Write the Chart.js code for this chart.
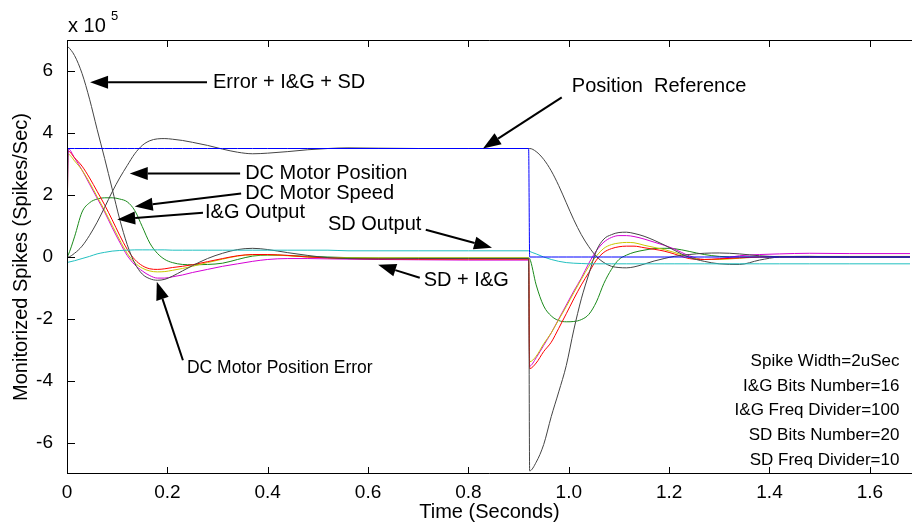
<!DOCTYPE html>
<html>
<head>
<meta charset="utf-8">
<script src="https://cdn.jsdelivr.net/npm/chart.js@4"></script>
<style>
  html, body { margin: 0; padding: 0; background: #fff; }
  canvas { display: block; }
</style>
</head>
<body>
<canvas id="myChart" width="912" height="526"></canvas>
<script>
// time axis (seconds), shared by every trace
var timeValues = [0, 0.002, 0.015, 0.03, 0.045, 0.06, 0.075, 0.09, 0.105, 0.12,
  0.135, 0.15, 0.165, 0.18, 0.195, 0.21, 0.23, 0.25, 0.28, 0.31,
  0.34, 0.37, 0.40, 0.44, 0.48, 0.52, 0.56, 0.62, 0.70, 0.80,
  0.92, 0.922, 0.935, 0.95, 0.965, 0.98, 0.995, 1.01, 1.025, 1.04,
  1.055, 1.07, 1.085, 1.10, 1.115, 1.13, 1.15, 1.17, 1.19, 1.21,
  1.24, 1.27, 1.30, 1.34, 1.38, 1.42, 1.48, 1.56, 1.68];

// spike rates, in units of 1e5 spikes/sec
var positionRef = [0, 3.5, 3.5, 3.5, 3.5, 3.5, 3.5, 3.5, 3.5, 3.5,
  3.5, 3.5, 3.5, 3.5, 3.5, 3.5, 3.5, 3.5, 3.5, 3.5,
  3.5, 3.5, 3.5, 3.5, 3.5, 3.5, 3.5, 3.5, 3.5, 3.5,
  3.5, 0, 0, 0, 0, 0, 0, 0, 0, 0,
  0, 0, 0, 0, 0, 0, 0, 0, 0, 0,
  0, 0, 0, 0, 0, 0, 0, 0, 0];

var motorPosition = [0, 0, 0.12, 0.35, 0.7, 1.12, 1.6, 2.1, 2.55, 2.95,
  3.33, 3.6, 3.75, 3.81, 3.82, 3.8, 3.76, 3.7, 3.6, 3.48,
  3.38, 3.33, 3.35, 3.4, 3.46, 3.5, 3.52, 3.51, 3.5, 3.5,
  3.5, 3.5, 3.4, 3.15, 2.78, 2.3, 1.75, 1.2, 0.72, 0.33,
  0.02, -0.18, -0.3, -0.34, -0.35, -0.32, -0.23, -0.13, -0.05, 0.02,
  0.08, 0.12, 0.13, 0.1, 0.04, 0.01, 0, 0, 0];

var errorIgSd = [6.8, 6.78, 6.5, 5.92, 5.09, 4.12, 3.18, 2.2, 1.22, 0.4,
  -0.2, -0.55, -0.7, -0.75, -0.72, -0.62, -0.45, -0.28, -0.05, 0.12,
  0.24, 0.28, 0.24, 0.14, 0.05, -0.02, -0.05, -0.06, -0.05, -0.05,
  -0.05, -6.9, -6.62, -6.05, -5.15, -4.35, -3.5, -2.35, -1.35, -0.55,
  0.2, 0.58, 0.72, 0.79, 0.8, 0.76, 0.67, 0.54, 0.39, 0.22,
  -0.01, -0.14, -0.22, -0.24, -0.1, 0, 0.02, 0, 0];

var motorSpeed = [0, 0.05, 0.65, 1.45, 1.75, 1.87, 1.91, 1.91, 1.87, 1.78,
  1.5, 0.98, 0.45, 0.12, -0.08, -0.18, -0.24, -0.25, -0.24, -0.2,
  -0.08, 0.03, 0.06, 0.05, 0.02, 0, -0.02, -0.03, -0.03, -0.03,
  -0.03, -0.05, -0.9, -1.58, -1.9, -2.05, -2.09, -2.08, -2.02, -1.85,
  -1.45, -0.85, -0.4, -0.08, 0.06, 0.15, 0.22, 0.27, 0.28, 0.27,
  0.18, 0.08, 0.02, 0, 0, 0, 0, 0, 0];

var igOutput = [0, 3.32, 3.1, 2.8, 2.4, 1.95, 1.5, 1.02, 0.55, 0.12,
  -0.18, -0.36, -0.45, -0.48, -0.47, -0.43, -0.37, -0.3, -0.18, -0.07,
  0.03, 0.07, 0.07, 0.04, 0, -0.02, -0.03, -0.03, -0.03, -0.03,
  -0.03, -3.38, -3.2, -2.8, -2.45, -2.02, -1.6, -1.15, -0.72, -0.3,
  0.03, 0.28, 0.4, 0.45, 0.47, 0.46, 0.38, 0.31, 0.24, 0.15,
  0, -0.08, -0.08, -0.04, 0, 0.02, 0.02, 0.02, 0.02];

var positionError = [0, 3.5, 3.2, 2.8, 2.35, 1.9, 1.45, 0.95, 0.48, 0.05,
  -0.25, -0.45, -0.6, -0.68, -0.68, -0.64, -0.58, -0.5, -0.4, -0.3,
  -0.22, -0.14, -0.08, -0.05, -0.05, -0.06, -0.07, -0.08, -0.09, -0.1,
  -0.1, -3.52, -3.25, -2.85, -2.45, -2.0, -1.55, -1.1, -0.68, -0.2,
  0.2, 0.48, 0.63, 0.69, 0.69, 0.66, 0.58, 0.48, 0.38, 0.26,
  0.04, -0.08, -0.06, 0.04, 0.08, 0.1, 0.12, 0.11, 0.11];

var sdIg = [0, 3.42, 3.2, 2.93, 2.55, 2.12, 1.68, 1.2, 0.7, 0.25,
  -0.08, -0.28, -0.38, -0.4, -0.38, -0.34, -0.3, -0.25, -0.15, -0.05,
  0.04, 0.08, 0.08, 0.05, 0, -0.03, -0.05, -0.06, -0.07, -0.07,
  -0.07, -3.6, -3.42, -3.05, -2.75, -2.3, -1.83, -1.35, -0.9, -0.5,
  -0.1, 0.15, 0.27, 0.33, 0.35, 0.35, 0.3, 0.25, 0.19, 0.1,
  -0.05, -0.08, -0.06, -0.03, 0, 0, 0, 0, 0];

var sdOutput = [-0.18, -0.17, -0.12, -0.05, 0.02, 0.1, 0.15, 0.19, 0.21, 0.22,
  0.23, 0.23, 0.23, 0.23, 0.23, 0.22, 0.22, 0.22, 0.22, 0.22,
  0.22, 0.22, 0.22, 0.22, 0.22, 0.22, 0.2, 0.2, 0.2, 0.2,
  0.2, 0.18, 0.1, 0, -0.08, -0.14, -0.18, -0.2, -0.21, -0.22,
  -0.22, -0.22, -0.22, -0.22, -0.22, -0.22, -0.22, -0.22, -0.22, -0.22,
  -0.22, -0.22, -0.22, -0.22, -0.22, -0.22, -0.22, -0.22, -0.22];

var xTicks = [0, 0.2, 0.4, 0.6, 0.8, 1, 1.2, 1.4, 1.6];
var yTicks = [-6, -4, -2, 0, 2, 4, 6];

var settings = ['Spike Width=2uSec', 'I&G Bits Number=16', 'I&G Freq Divider=100',
  'SD Bits Number=20', 'SD Freq Divider=10'];

// callouts: label start, arrow tail and arrow tip, all in data units
var callouts = [
  {text: 'Error + I&G + SD', at: [0.291, 5.64], tail: [0.279, 5.64], tip: [0.046, 5.64]},
  {text: 'Position  Reference', at: [1.006, 5.49], tail: [0.986, 5.15], tip: [0.829, 3.5]},
  {text: 'DC Motor Position', at: [0.355, 2.69], tail: [0.345, 2.69], tip: [0.125, 2.69]},
  {text: 'DC Motor Speed', at: [0.355, 2.05], tail: [0.347, 2.05], tip: [0.135, 1.63]},
  {text: 'I&G Output', at: [0.275, 1.43], tail: [0.271, 1.43], tip: [0.1, 1.21]},
  {text: 'SD Output', at: [0.52, 1.05], tail: [0.715, 0.88], tip: [0.847, 0.3]},
  {text: 'SD + I&G', at: [0.711, -0.77], tail: [0.703, -0.67], tip: [0.62, -0.25]},
  {text: 'DC Motor Position Error', at: [0.239, -3.58], tail: [0.231, -3.33], tip: [0.179, -0.8], size: 17.5}
];

var FONT = '"Liberation Sans", Arial, Helvetica, sans-serif';

function pts(vals) {
  return timeValues.map(function (t, i) { return {x: t, y: vals[i]}; });
}

function trace(label, vals, color) {
  return {
    label: label,
    data: pts(vals),
    borderColor: color,
    borderWidth: 1,
    pointRadius: 0,
    fill: false,
    cubicInterpolationMode: 'monotone'
  };
}

// axes box with inward ticks, the exponent, callouts and settings text
var decorations = {
  id: 'decorations',
  afterDraw: function (chart) {
    var ctx = chart.ctx, a = chart.chartArea;
    var xs = chart.scales.x, ys = chart.scales.y;
    ctx.save();
    ctx.strokeStyle = '#000';
    ctx.lineWidth = 1;
    ctx.beginPath();
    ctx.moveTo(a.right, a.top + 0.5);
    ctx.lineTo(a.left + 0.5, a.top + 0.5);
    ctx.lineTo(a.left + 0.5, a.bottom - 0.5);
    ctx.lineTo(a.right, a.bottom - 0.5);
    ctx.stroke();

    ctx.beginPath();
    xTicks.forEach(function (v) {
      var px = Math.round(xs.getPixelForValue(v)) + 0.5;
      ctx.moveTo(px, a.bottom); ctx.lineTo(px, a.bottom - 7);
      ctx.moveTo(px, a.top); ctx.lineTo(px, a.top + 7);
    });
    yTicks.forEach(function (v) {
      var py = Math.round(ys.getPixelForValue(v)) + 0.5;
      ctx.moveTo(a.left, py); ctx.lineTo(a.left + 8, py);
    });
    ctx.stroke();

    ctx.fillStyle = '#000';
    ctx.textBaseline = 'middle';
    ctx.textAlign = 'left';
    ctx.font = '20px ' + FONT;
    ctx.fillText('x 10', a.left + 1, a.top - 14);
    ctx.font = '13px ' + FONT;
    ctx.fillText('5', a.left + 44, a.top - 24);

    callouts.forEach(function (c) {
      var tx = xs.getPixelForValue(c.tail[0]), ty = ys.getPixelForValue(c.tail[1]);
      var hx = xs.getPixelForValue(c.tip[0]), hy = ys.getPixelForValue(c.tip[1]);
      var ang = Math.atan2(hy - ty, hx - tx);
      var len = 18, half = 6.5;
      var bx = hx - len * Math.cos(ang), by = hy - len * Math.sin(ang);
      ctx.lineWidth = 2;
      ctx.beginPath();
      ctx.moveTo(tx, ty);
      ctx.lineTo(bx, by);
      ctx.stroke();
      ctx.beginPath();
      ctx.moveTo(hx, hy);
      ctx.lineTo(bx + half * Math.sin(ang), by - half * Math.cos(ang));
      ctx.lineTo(bx - half * Math.sin(ang), by + half * Math.cos(ang));
      ctx.closePath();
      ctx.fill();
      ctx.font = (c.size || 20) + 'px ' + FONT;
      ctx.fillText(c.text, xs.getPixelForValue(c.at[0]), ys.getPixelForValue(c.at[1]));
    });

    ctx.font = '17px ' + FONT;
    ctx.textAlign = 'right';
    settings.forEach(function (s, i) {
      ctx.fillText(s, xs.getPixelForValue(1.659), ys.getPixelForValue(-3.36 - i * 0.8));
    });
    ctx.restore();
  }
};

new Chart('myChart', {
  type: 'line',
  data: {
    datasets: [
      trace('Position Reference', positionRef, '#0000ff'),
      trace('SD Output', sdOutput, '#22c0c0'),
      trace('DC Motor Position', motorPosition, '#444444'),
      trace('Error + I&G + SD', errorIgSd, '#444444'),
      trace('SD + I&G', sdIg, '#ff0000'),
      trace('I&G Output', igOutput, '#c8c800'),
      trace('DC Motor Position Error', positionError, '#d400d4'),
      trace('DC Motor Speed', motorSpeed, '#1a8a1a')
    ]
  },
  options: {
    responsive: false,
    animation: false,
    layout: {padding: {top: 40, right: 0, bottom: 0, left: 0}},
    plugins: {legend: {display: false}, tooltip: {enabled: false}},
    scales: {
      x: {
        type: 'linear',
        min: 0,
        max: 1.684,
        grid: {display: false},
        border: {display: false},
        afterBuildTicks: function (s) { s.ticks = xTicks.map(function (v) { return {value: v}; }); },
        afterFit: function (s) { s.height = 52; },
        ticks: {color: '#000', font: {family: FONT, size: 19}, padding: -1, maxRotation: 0},
        title: {display: true, text: 'Time (Seconds)', color: '#000',
          font: {family: FONT, size: 20}, padding: {top: 0, bottom: 2}}
      },
      y: {
        min: -7,
        max: 7,
        grid: {display: false},
        border: {display: false},
        afterBuildTicks: function (s) { s.ticks = yTicks.map(function (v) { return {value: v}; }); },
        afterFit: function (s) { s.width = 67; },
        ticks: {color: '#000', font: {family: FONT, size: 19}, padding: 6},
        title: {display: true, text: 'Monitorized Spikes (Spikes/Sec)', color: '#000',
          font: {family: FONT, size: 20}, padding: {top: 9, bottom: 0}}
      }
    }
  },
  plugins: [decorations]
});
</script>
</body>
</html>
